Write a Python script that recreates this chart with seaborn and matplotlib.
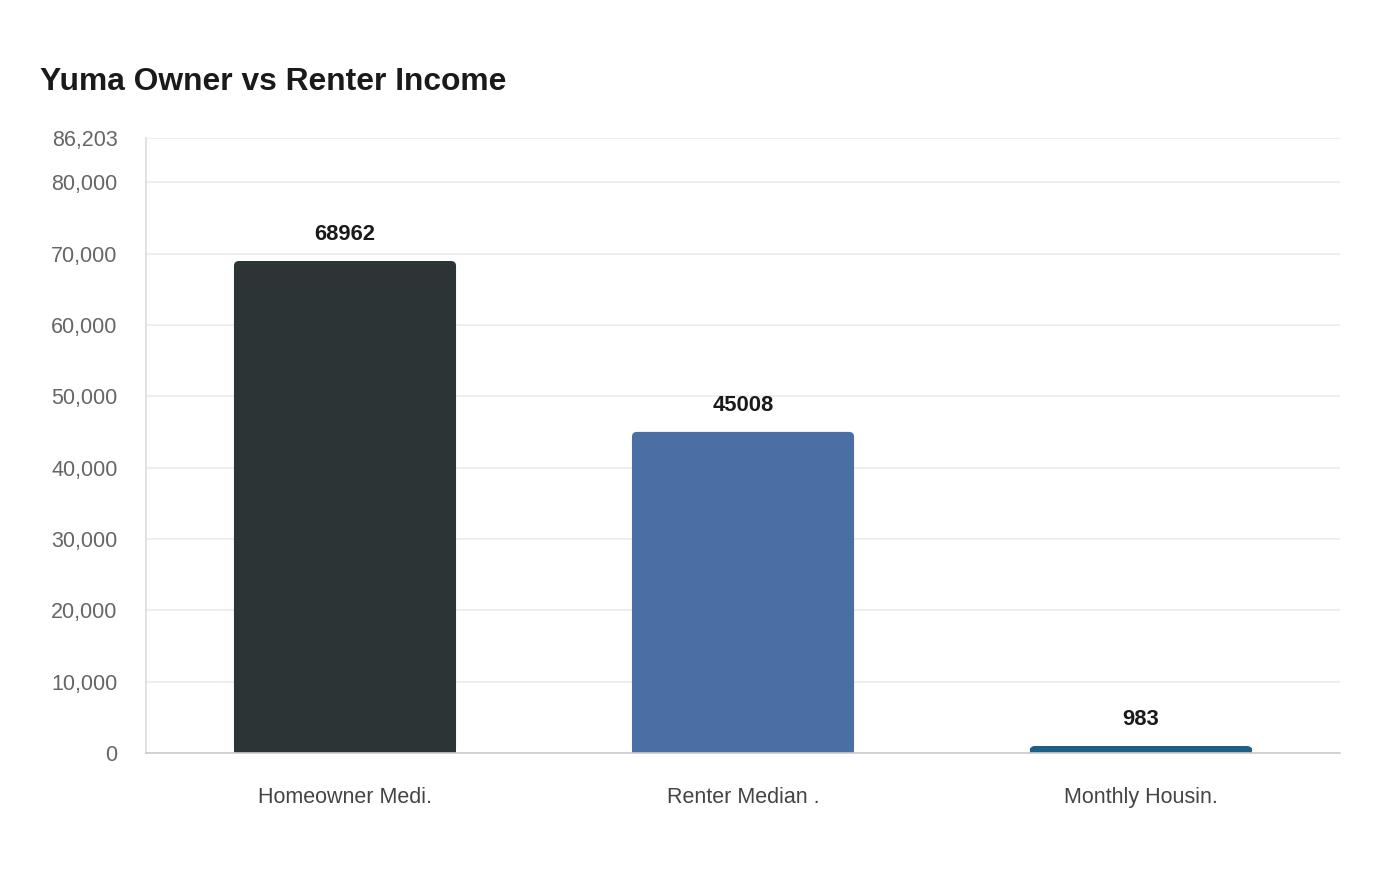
import matplotlib
matplotlib.use("Agg")
import matplotlib.pyplot as plt
import seaborn as sns
import pandas as pd
from matplotlib.patches import FancyBboxPatch

# data
categories = ["Homeowner Medi.", "Renter Median .", "Monthly Housin."]
values = [68962, 45008, 983]
bar_colors = ["#2d3436", "#4a6fa5", "#1f5f86"]
y_ticks = [0, 10000, 20000, 30000, 40000, 50000, 60000, 70000, 80000, 86203]
y_max = 86203

sns.set_theme(style="white")
plt.rcParams["font.family"] = ["Liberation Sans", "DejaVu Sans"]

df = pd.DataFrame({"category": categories, "value": values})

fig = plt.figure(figsize=(14, 8.8), dpi=100)
ax = fig.add_axes([146 / 1400, 1 - 753 / 880, 1194 / 1400, 615 / 880])

sns.barplot(data=df, x="category", y="value", hue="category", palette=bar_colors,
            width=0.558, legend=False, ax=ax, saturation=1)

ax.set_xlim(-0.5, 2.5)
ax.set_ylim(0, y_max)

# swap plain rectangles for bars with rounded top corners
px_x = 1194 / 3
px_y = 615 / y_max
for p in list(ax.patches):
    x, y, w, h = p.get_x(), p.get_y(), p.get_width(), p.get_height()
    fc = p.get_facecolor()
    p.remove()
    r = 5 / px_x
    bar = FancyBboxPatch((x, y), w, h, boxstyle=f"round,pad=0,rounding_size={r}",
                         mutation_aspect=px_x / px_y, facecolor=fc, edgecolor="none")
    ax.add_patch(bar)
    ax.add_patch(plt.Rectangle((x, y), w, min(h, 5 / px_y), facecolor=fc, edgecolor="none"))

for i, v in enumerate(values):
    ax.annotate(str(v), (i, v), xytext=(0, 11.3), textcoords="offset points",
                ha="center", va="bottom", fontsize=15.8, fontweight="bold", color="#1a1a1a")

ax.set_yticks(y_ticks)
ax.set_yticklabels([f"{t:,}" for t in y_ticks])
ax.yaxis.grid(True, color="#ebebeb", linewidth=1.2)
ax.set_axisbelow(True)
ax.tick_params(axis="y", length=11.5, width=1.2, color="#ebebeb", pad=9,
               labelsize=15.5, labelcolor="#666666")
ax.tick_params(axis="x", length=0, pad=24.5, labelsize=15.5, labelcolor="#444444")
ax.set_xlabel("")
ax.set_ylabel("")

for side in ["top", "right"]:
    ax.spines[side].set_visible(False)
ax.spines["left"].set_color("#dddddd")
ax.spines["bottom"].set_color("#cccccc")
ax.spines["bottom"].set_linewidth(1.2)

fig.text(40 / 1400, 1 - 82 / 880, "Yuma Owner vs Renter Income", fontsize=22.85,
         fontweight="bold", color="#1a1a1a", ha="left", va="center")

fig.savefig("out.png", dpi=100, facecolor="white")
